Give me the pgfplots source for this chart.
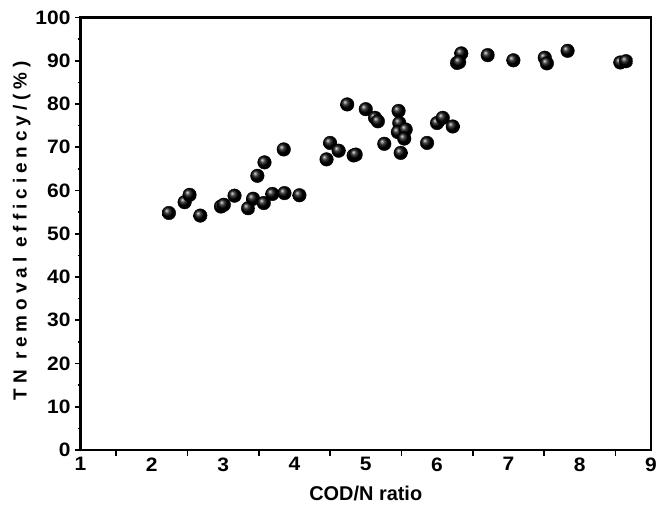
\documentclass[border=0pt]{standalone}
\usepackage{pgfplots}
\pgfplotsset{compat=1.18}
\usepackage{fontspec}
\setmainfont{Liberation Sans}
\begin{document}
\begin{tikzpicture}
\begin{axis}[
  name=ax,
  scale only axis,
  width=570.5bp, height=432.5bp,
  xmin=1, xmax=9, ymin=0, ymax=100,
  axis line style={line width=2.2bp},
  tick align=outside,
  xtick pos=bottom, ytick pos=left,
  xtick={1.5,2.5,...,8.5},
  xticklabels={},
  extra x ticks={1,2,...,9},
  extra x tick style={major tick length=0pt},
  extra x tick labels={1,2,3,4,5,6,7,8,9},
  ytick={0,10,...,100},
  minor ytick={5,15,...,95},
  major tick length=5.5bp,
  minor tick length=3bp,
  every tick/.style={black, line width=1.6bp},
  /pgf/number format/assume math mode=true,
  ticklabel style={font=\bfseries\fontsize{19.5}{21}\selectfont\addfontfeature{FakeStretch=1.08}},
  xticklabel style={yshift=-4bp},
  yticklabel style={xshift=-1bp},
  xlabel={\bfseries\fontsize{20}{22}\selectfont COD/N ratio},
  ylabel={\bfseries\fontsize{19}{21}\selectfont\addfontfeature{LetterSpace=26}TN removal efficiency/(\%)},
  xlabel style={yshift=-2bp},
  ylabel style={yshift=-2bp, xshift=3bp},
  clip=false,
]
\addplot[only marks, mark=ball, mark size=6.8bp, mark options={ball color=black}] coordinates {
(2.24,54.8) (2.46,57.3) (2.53,59.0) (2.68,54.2) (2.97,56.3) (3.01,56.7)
(3.16,58.8) (3.35,55.9) (3.42,58.1) (3.57,57.1) (3.69,59.2) (3.86,59.4)
(4.07,58.9) (3.48,63.4) (3.58,66.5) (3.85,69.5) (4.45,67.2) (4.50,71.0)
(4.62,69.2) (4.74,79.9) (5.00,78.8) (5.13,76.8) (5.17,76.0) (5.46,78.4)
(5.47,75.6) (5.45,73.5) (5.56,74.1) (5.54,72.0) (4.83,68.1) (4.86,68.3)
(5.26,70.8) (5.49,68.7) (5.86,71.0) (6.00,75.6) (6.08,76.8) (6.22,74.8)
(6.34,91.7) (6.28,89.5) (6.31,89.7) (6.71,91.3) (7.07,90.1) (7.51,90.7)
(7.54,89.4) (7.83,92.3) (8.57,89.6) (8.65,89.9)
};
\end{axis}
\pgfresetboundingbox
\path ([shift={(-80.5bp,-59bp)}]ax.south west) rectangle ([shift={(19bp,17.5bp)}]ax.north east);
\end{tikzpicture}
\end{document}
